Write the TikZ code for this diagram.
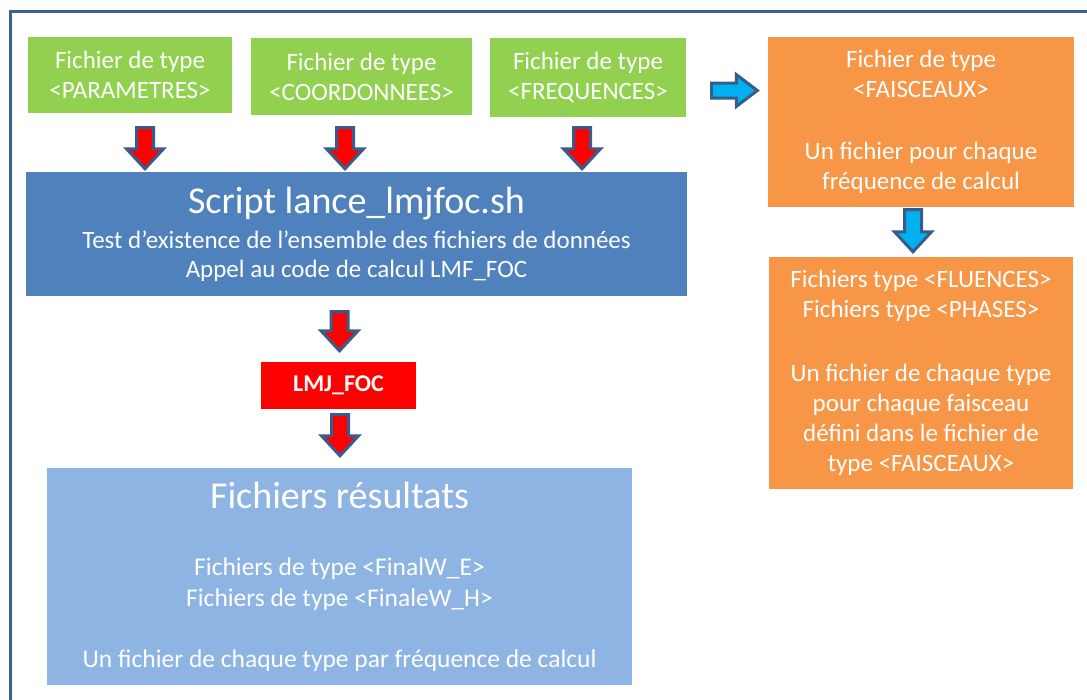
\documentclass[tikz,border=0pt]{standalone}
\usepackage{fontspec}
\setmainfont{Carlito}
\usetikzlibrary{calc}
\definecolor{vertfich}{RGB}{146,208,80}
\definecolor{bleuscript}{RGB}{79,129,189}
\definecolor{bleures}{RGB}{141,180,226}
\definecolor{orangefich}{RGB}{247,150,70}
\definecolor{rougelmj}{RGB}{255,0,0}
\definecolor{bleuciel}{RGB}{0,176,240}
\definecolor{contour}{RGB}{56,93,138}
\definecolor{cadre}{RGB}{62,96,140}
\tikzset{boite/.style={text=white,inner sep=0pt,align=center,font=\fontsize{25}{30}\selectfont},
  fleche/.style={draw=contour,line width=3pt}}
% grosse fleche vers le bas / vers la droite entre deux points
\newcommand{\flechebas}[3]{\draw[fleche,fill=#3] let \p1=#1,\p2=#2 in (\x1-8.5pt,\y1)--(\x1+8.5pt,\y1)--(\x1+8.5pt,\y2+20pt)--(\x1+18.5pt,\y2+20pt)--(\x1,\y2)--(\x1-18.5pt,\y2+20pt)--(\x1-8.5pt,\y2+20pt)--cycle;}
\newcommand{\flechedroite}[3]{\draw[fleche,fill=#3] let \p1=#1,\p2=#2 in (\x1,\y1+7.5pt)--(\x2-21pt,\y1+7.5pt)--(\x2-21pt,\y1+16pt)--(\x2,\y1)--(\x2-21pt,\y1-16pt)--(\x2-21pt,\y1-7.5pt)--(\x1,\y1-7.5pt)--cycle;}
\newcommand{\titre}{\fontsize{38}{44}\selectfont}

\begin{document}
\begin{tikzpicture}[x=1pt,y=-1pt]
\useasboundingbox (0,0) rectangle (1087,699);
\draw[draw=cadre,line width=3pt] (1092,11)--(10,11)--(10,705);
\foreach \nom/\x/\y/\w/\h/\txt in {par/130/75/204/76/{Fichier de type\\<PARAMETRES>},coo/361.5/76.5/221/77/{Fichier de type\\<COORDONNEES>},fre/588/77.5/196/79/{Fichier de type\\<FREQUENCES>}}{\node[boite,fill=vertfich,minimum width=\w pt,minimum height=\h pt] (\nom) at (\x,\y) {\txt};}
\node[boite,fill=bleuscript,minimum width=661pt,minimum height=124pt] (scr) at (356.5,234) {{\titre Script lance\_lmjfoc.sh}\\[5pt]Test d’existence de l’ensemble des fichiers de données\\[-1pt]Appel au code de calcul LMF\_FOC};
\node[boite,fill=rougelmj,minimum width=155pt,minimum height=47pt,font=\fontsize{24}{28}\selectfont\bfseries] (lmj) at (338.5,385.5) {LMJ\_FOC};
\node[boite,fill=bleures,minimum width=585pt,minimum height=217pt,font=\fontsize{25.5}{31}\selectfont] (res) at (339.5,576.5) {{\titre Fichiers résultats}\\[36pt]Fichiers de type <FinalW\_E>\\Fichiers de type <FinaleW\_H>\\[30pt]Un fichier de chaque type par fréquence de calcul};
\node[boite,fill=orangefich,minimum width=306pt,minimum height=170pt] (fai) at (921,122) {Fichier de type\\<FAISCEAUX>\\[32pt]Un fichier pour chaque\\fréquence de calcul};
\node[boite,fill=orangefich,minimum width=304pt,minimum height=232pt] (flu) at (921,373) {Fichiers type <FLUENCES>\\Fichiers type <PHASES>\\[34pt]Un fichier de chaque type\\pour chaque faisceau\\défini dans le fichier de\\type <FAISCEAUX>};
% fleches rouges
\foreach \nom/\dx/\dy in {par/15/14.5,coo/-16.5/12.5,fre/-6/10.5}{\coordinate (h) at ($(\nom.south)+(\dx,\dy)$); \flechebas{(h)}{($(h |- scr.north)+(0,-3)$)}{rougelmj}}
\coordinate (h4) at ($(scr.south)+(-17,15.5)$);
\flechebas{(h4)}{($(h4 |- lmj.north)+(0,-11)$)}{rougelmj}
\coordinate (h5) at ($(lmj.south)+(1.5,5.5)$);
\flechebas{(h5)}{($(h5 |- res.north)+(0,-12)$)}{rougelmj}
% fleches bleues
\coordinate (h6) at ($(fre.east)+(25.5,13)$);
\flechedroite{(h6)}{($(h6 -| fai.west)+(-10.5,0)$)}{bleuciel}
\coordinate (h7) at ($(fai.south)+(-8,2.5)$);
\flechebas{(h7)}{($(h7 |- flu.north)+(0,-5)$)}{bleuciel}
\end{tikzpicture}
\end{document}
